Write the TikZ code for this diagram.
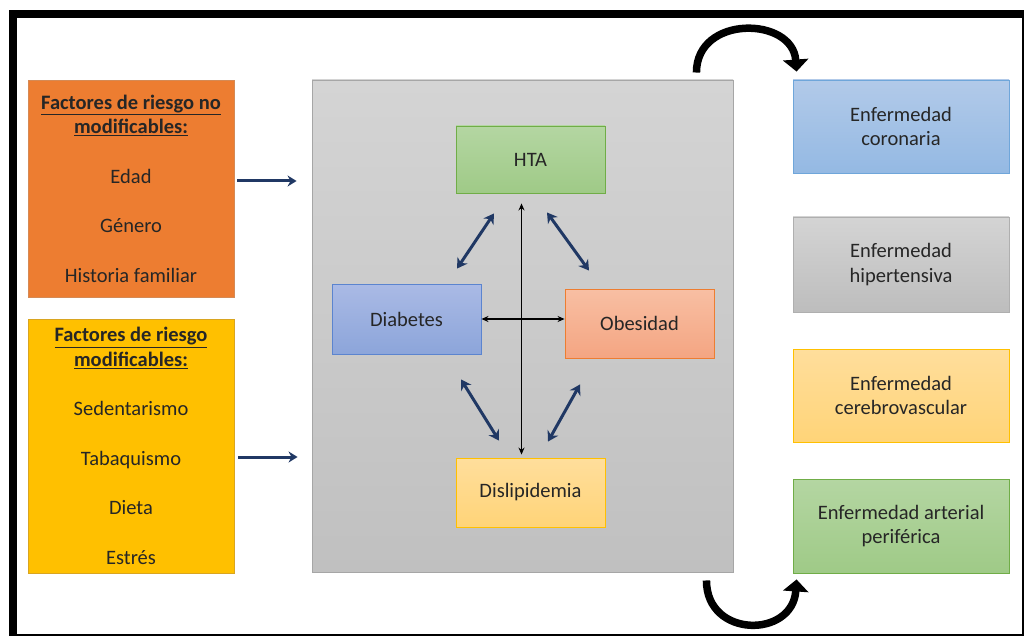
\documentclass[tikz,border=0pt]{standalone}
\usepackage{fontspec}
\setmainfont{Carlito}
\usepackage{tikz}
\usetikzlibrary{arrows.meta}
\definecolor{navy}{HTML}{203864}
\definecolor{txt}{HTML}{262626}
\definecolor{orangeF}{HTML}{ED7D31}
\definecolor{orangeD}{HTML}{D58A55}
\definecolor{goldF}{HTML}{FFC000}
\definecolor{goldD}{HTML}{D9A520}
\definecolor{panelT}{HTML}{D4D4D4}
\definecolor{panelB}{HTML}{C0C0C0}
\definecolor{panelD}{HTML}{A6A6A6}
\definecolor{greenT}{HTML}{B4D6A2}
\definecolor{greenB}{HTML}{9FCA87}
\definecolor{greenD}{HTML}{70AD47}
\definecolor{blueT}{HTML}{AABAE5}
\definecolor{blueB}{HTML}{8CA5DA}
\definecolor{blueD}{HTML}{5B84CF}
\definecolor{salmonT}{HTML}{F8BFA3}
\definecolor{salmonB}{HTML}{F4A582}
\definecolor{yellowT}{HTML}{FFDE9C}
\definecolor{yellowB}{HTML}{FFD478}
\definecolor{skyT}{HTML}{B2CAE9}
\definecolor{skyB}{HTML}{94B9E3}
\definecolor{skyD}{HTML}{6FA6DA}
\definecolor{grayT}{HTML}{D4D4D4}
\definecolor{grayB}{HTML}{BDBDBD}
\definecolor{grayD}{HTML}{AFAFAF}
\tikzset{
box/.style={draw, line width=0.9pt, align=center, inner sep=0pt, text=txt,
  font=\fontsize{20.5}{24.5}\selectfont},
navyarrow/.style={draw=navy, line width=3pt, {Stealth[length=10pt,width=12pt]}-{Stealth[length=10pt,width=12pt]}},
navyright/.style={draw=navy, line width=3pt, -{Stealth[length=9pt,width=11pt]}},
thinarrow/.style={line width=1.1pt, {Stealth[length=7pt,width=6pt]}-{Stealth[length=7pt,width=6pt]}},
bigcurve/.style={line width=7.5pt, -{Triangle[width=25pt,length=12pt]}}}

\begin{document}
\begin{tikzpicture}[x=1pt,y=-1pt]
    \useasboundingbox (0,0) rectangle (1027,636);
    \fill[black] (9,10) rectangle (1024,636);
    \fill[white] (17,18) rectangle (1021.5,633.5);

                \node[box, fill=orangeF, draw=orangeD, minimum width=206pt, minimum height=217pt] (nomod) at (131,188.5)
                    {\underline{\textbf{Factores de riesgo no}}\\\underline{\textbf{modificables:}}\\[25pt]Edad\\[25pt]Género\\[25pt]Historia familiar};
                \node[box, fill=goldF, draw=goldD, minimum width=206pt, minimum height=254pt] (mod) at (131,446)
                    {\underline{\textbf{Factores de riesgo}}\\\underline{\textbf{modificables:}}\\[25pt]Sedentarismo\\[25pt]Tabaquismo\\[25pt]Dieta\\[25pt]Estrés};

                \node[box, top color=panelT, bottom color=panelB, draw=panelD, minimum width=421pt, minimum height=492pt] (panel) at (522.5,326) {};

                \node[box, top color=greenT, bottom color=greenB, draw=greenD, minimum width=149pt, minimum height=67pt] (hta) at (530.5,159.5) {HTA};
                \node[box, top color=blueT, bottom color=blueB, draw=blueD, minimum width=149pt, minimum height=70pt] (diab) at (406.5,319) {Diabetes};
                \node[box, top color=salmonT, bottom color=salmonB, draw=orangeF, minimum width=149pt, minimum height=69pt] (obes) at (639.5,323.5) {Obesidad};
                \node[box, top color=yellowT, bottom color=yellowB, draw=goldF, minimum width=149pt, minimum height=69pt] (dislip) at (530.5,492.5) {Dislipidemia};

                \node[box, top color=skyT, bottom color=skyB, draw=skyD, minimum width=216pt, minimum height=93pt] (coron) at (901,126.5) {Enfermedad\\coronaria};
                \node[box, top color=grayT, bottom color=grayB, draw=grayD, minimum width=216pt, minimum height=95pt] (hiper) at (901,264.5) {Enfermedad\\hipertensiva};
                \node[box, top color=yellowT, bottom color=yellowB, draw=goldF, minimum width=216pt, minimum height=93pt] (cereb) at (901,395.5) {Enfermedad\\cerebrovascular};
                \node[box, top color=greenT, bottom color=greenB, draw=greenD, minimum width=216pt, minimum height=94pt] (perif) at (901,526) {Enfermedad arterial\\periférica};

                \draw[navyright, shorten <=3pt, shorten >=15pt] ([yshift=7.5pt]nomod.east) -- ([yshift=7.5pt]nomod.east -| panel.west);
                \draw[navyright, shorten <=4pt, shorten >=14pt] ([yshift=-11pt]mod.east) -- ([yshift=-11pt]mod.east -| panel.west);

                \draw[thinarrow] ([xshift=-9pt,yshift=-10pt]hta.south) -- ([xshift=-9pt,yshift=3pt]dislip.north);
                \draw[thinarrow] (diab.east) -- (diab.east -| obes.west);

                \draw[navyarrow] ([xshift=-36.5pt,yshift=-20pt]hta.south) -- ([xshift=50.5pt,yshift=15pt]diab.north);
                \draw[navyarrow] ([xshift=16.5pt,yshift=-19pt]hta.south) -- ([xshift=-50.5pt,yshift=18pt]obes.north);
                \draw[navyarrow] ([xshift=54.5pt,yshift=-25pt]diab.south) -- ([xshift=-31.5pt,yshift=17pt]dislip.north);
                \draw[navyarrow] ([xshift=-59.5pt,yshift=-26pt]obes.south) -- ([xshift=17.5pt,yshift=16pt]dislip.north);

                \draw[bigcurve] ([xshift=-37pt,yshift=7pt]panel.north east) .. controls +(0,-58) and +(-4,-55) .. ([xshift=4pt,yshift=8pt]coron.north west);
                \draw[bigcurve] ([xshift=-27pt,yshift=-8pt]panel.south east) .. controls +(0,58) and +(-4,59) .. ([xshift=4pt,yshift=-6pt]perif.south west);

            \end{tikzpicture}
\end{document}
